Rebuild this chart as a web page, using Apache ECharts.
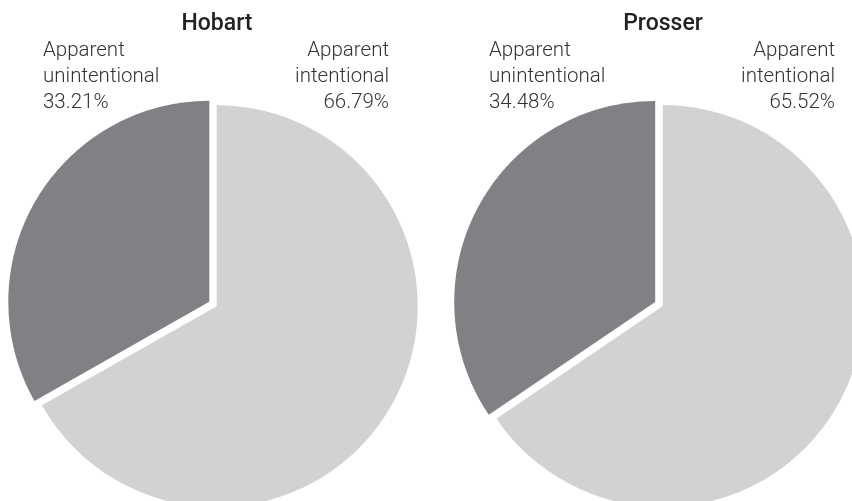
<!DOCTYPE html>
<html>
<head>
<meta charset="utf-8">
<script src="https://cdn.jsdelivr.net/npm/echarts@6/dist/echarts.min.js"></script>
<style>
  html, body { margin: 0; padding: 0; background: #fff; }
  #chart { width: 852px; height: 501px; }
</style>
</head>
<body>
<div id="chart"></div>
<script>
// Pie pair: apparent intentional vs unintentional, per site
const sites = ['Hobart', 'Prosser'];
const categories = ['Apparent intentional', 'Apparent unintentional'];
const hobartShares = [66.79, 33.21];
const prosserShares = [65.52, 34.48];
const sliceColors = ['#d1d2d4', '#808184'];

const shares = [hobartShares, prosserShares];
const centers = [[213, 304], [659, 304]];
const labelFont = '300 20.5px Roboto, "Noto Sans", sans-serif';
const titleFont = '500 23px Roboto, "Noto Sans", sans-serif';

const chart = echarts.init(document.getElementById('chart'));

function labelText(name, value) {
    return name.split(' ').join('\n') + '\n' + value.toFixed(2) + '%';
}

const series = shares.map((vals, i) => ({
    type: 'pie',
    center: centers[i],
    radius: 201,
    startAngle: 90,
    clockwise: true,
    silent: true,
    selectedMode: 'multiple',
    selectedOffset: 4.3,
    label: { show: false },
    labelLine: { show: false },
    emphasis: { disabled: true },
    data: vals.map((v, j) => ({
        name: categories[j],
        value: v,
        selected: true,
        itemStyle: { color: sliceColors[j], borderWidth: 0 },
        select: { itemStyle: { color: sliceColors[j], borderWidth: 0 } }
    }))
}));

const graphics = [];
sites.forEach((site, i) => {
    const cx = centers[i][0];
    graphics.push({
        type: 'text', x: cx + 4, y: 13,
        style: { text: site, font: titleFont, fill: '#222', align: 'center', verticalAlign: 'top' }
    });
    // unintentional label on the left, intentional on the right
    graphics.push({
        type: 'text', x: cx - 170, y: 38,
        style: {
            text: labelText(categories[1], shares[i][1]),
            font: labelFont, fill: '#333', align: 'left', verticalAlign: 'top', lineHeight: 26
        }
    });
    graphics.push({
        type: 'text', x: cx + 176, y: 38,
        style: {
            text: labelText(categories[0], shares[i][0]),
            font: labelFont, fill: '#333', align: 'right', verticalAlign: 'top', lineHeight: 26
        }
    });
});

chart.setOption({
    animation: false,
    backgroundColor: '#fff',
    series: series,
    graphic: graphics
});
</script>
</body>
</html>
